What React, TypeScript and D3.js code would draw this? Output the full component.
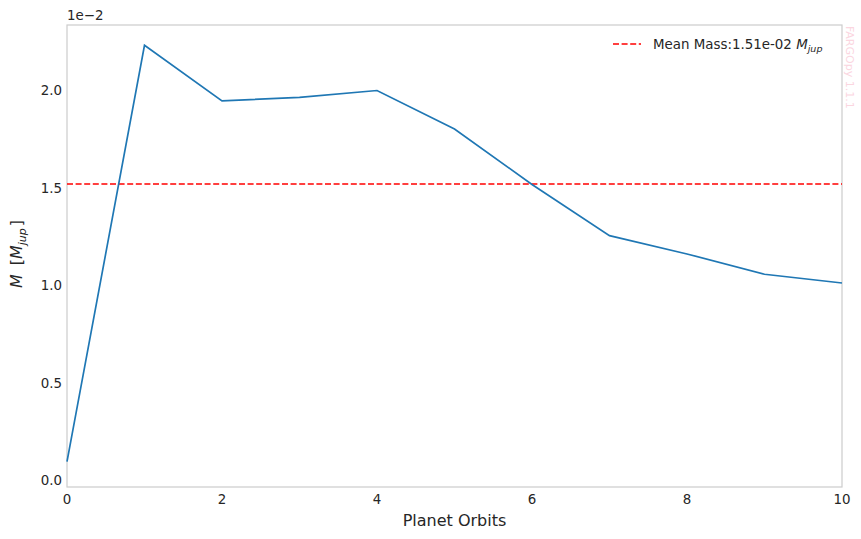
import React, { useEffect, useRef } from 'react';
import * as d3 from 'd3';

// planet mass per orbit, in units of 1e-2 M_jup
const orbits = [0, 1, 2, 3, 4, 5, 6, 7, 8, 9, 10];
const masses = [0.099, 2.234, 1.949, 1.967, 2.002, 1.805, 1.52, 1.258, 1.164, 1.06, 1.015];
const meanMass = 1.523;
const meanLabel = 'Mean Mass:1.51e-02 ';
const yTicks = [0, 0.5, 1.0, 1.5, 2.0];
const xTicks = [0, 2, 4, 6, 8, 10];

const App = () => {
  const ref = useRef<SVGSVGElement | null>(null);

  useEffect(() => {
    const W = 861;
    const H = 539;
    const margin = { top: 25, right: 19, bottom: 52, left: 67 };
    const width = W - margin.left - margin.right;
    const height = H - margin.top - margin.bottom;
    const font = 'DejaVu Sans, sans-serif';
    const tickSize = 13.4;

    const root = d3.select(ref.current);
    root.selectAll('*').remove();

    const svg = root.append('g').attr('transform', `translate(${margin.left},${margin.top})`);

    const x = d3.scaleLinear().domain([0, 10]).range([0, width]);
    const y = d3.scaleLinear().domain([-0.031, 2.338]).range([height, 0]);

    // frame
    svg
      .append('rect')
      .attr('width', width)
      .attr('height', height)
      .attr('fill', 'none')
      .attr('stroke', '#cccccc')
      .attr('stroke-width', 1.2);

    // x tick labels
    svg
      .selectAll('.xt')
      .data(xTicks)
      .enter()
      .append('text')
      .attr('x', (d) => x(d))
      .attr('y', height + 17)
      .attr('text-anchor', 'middle')
      .attr('font-family', font)
      .attr('font-size', tickSize)
      .attr('fill', '#262626')
      .text((d) => d);

    // y tick labels
    svg
      .selectAll('.yt')
      .data(yTicks)
      .enter()
      .append('text')
      .attr('x', -5)
      .attr('y', (d) => y(d) + 4.5)
      .attr('text-anchor', 'end')
      .attr('font-family', font)
      .attr('font-size', tickSize)
      .attr('fill', '#262626')
      .text((d) => d.toFixed(1));

    // offset text
    svg
      .append('text')
      .attr('x', 0)
      .attr('y', -5)
      .attr('font-family', font)
      .attr('font-size', tickSize)
      .attr('fill', '#262626')
      .text('1e\u22122');

    // x label
    svg
      .append('text')
      .attr('x', width / 2)
      .attr('y', height + 39)
      .attr('text-anchor', 'middle')
      .attr('font-family', font)
      .attr('font-size', 16)
      .attr('fill', '#262626')
      .text('Planet Orbits');

    // y label
    const yl = svg
      .append('text')
      .attr('transform', `translate(${-45},${height / 2 - 2}) rotate(-90)`)
      .attr('text-anchor', 'middle')
      .attr('font-family', font)
      .attr('font-size', 16)
      .attr('fill', '#262626');
    yl.append('tspan').attr('font-style', 'italic').text('M');
    yl.append('tspan').attr('dx', 9).text('[');
    yl.append('tspan').attr('font-style', 'italic').text('M');
    yl.append('tspan').attr('font-style', 'italic').attr('font-size', 11).attr('dy', 4).text('jup');
    yl.append('tspan').attr('dy', -4).attr('dx', 2).text(']');

    // mean line
    svg
      .append('line')
      .attr('x1', 0)
      .attr('x2', width)
      .attr('y1', y(meanMass))
      .attr('y2', y(meanMass))
      .attr('stroke', '#ff0000')
      .attr('stroke-width', 1.6)
      .attr('stroke-dasharray', '6,2.6');

    // mass line
    const line = d3
      .line<number>()
      .x((_, i) => x(orbits[i]))
      .y((d) => y(d));
    svg
      .append('path')
      .datum(masses)
      .attr('d', line)
      .attr('fill', 'none')
      .attr('stroke', '#1f77b4')
      .attr('stroke-width', 1.7);

    // legend
    const lg = svg.append('g').attr('transform', `translate(${546},${19})`);
    lg.append('line')
      .attr('x1', 0)
      .attr('x2', 28)
      .attr('stroke', '#ff0000')
      .attr('stroke-width', 1.6)
      .attr('stroke-dasharray', '6,2.6');
    const lt = lg
      .append('text')
      .attr('x', 40)
      .attr('y', 5)
      .attr('font-family', font)
      .attr('font-size', tickSize)
      .attr('fill', '#262626');
    lt.append('tspan').text(meanLabel);
    lt.append('tspan').attr('font-style', 'italic').text('M');
    lt.append('tspan').attr('font-style', 'italic').attr('font-size', 9.5).attr('dy', 3).text('jup');

    // watermark
    svg
      .append('text')
      .attr('transform', `translate(${width + 4},${1}) rotate(90)`)
      .attr('font-family', font)
      .attr('font-size', 11)
      .attr('fill', '#fbd6df')
      .text('FARGOpy 1.1.1');
  }, []);

  return (
    <svg
      ref={ref}
      width={861}
      height={539}
      style={{ position: 'absolute', left: 0, top: 0, background: '#ffffff' }}
    />
  );
};

export default App;
